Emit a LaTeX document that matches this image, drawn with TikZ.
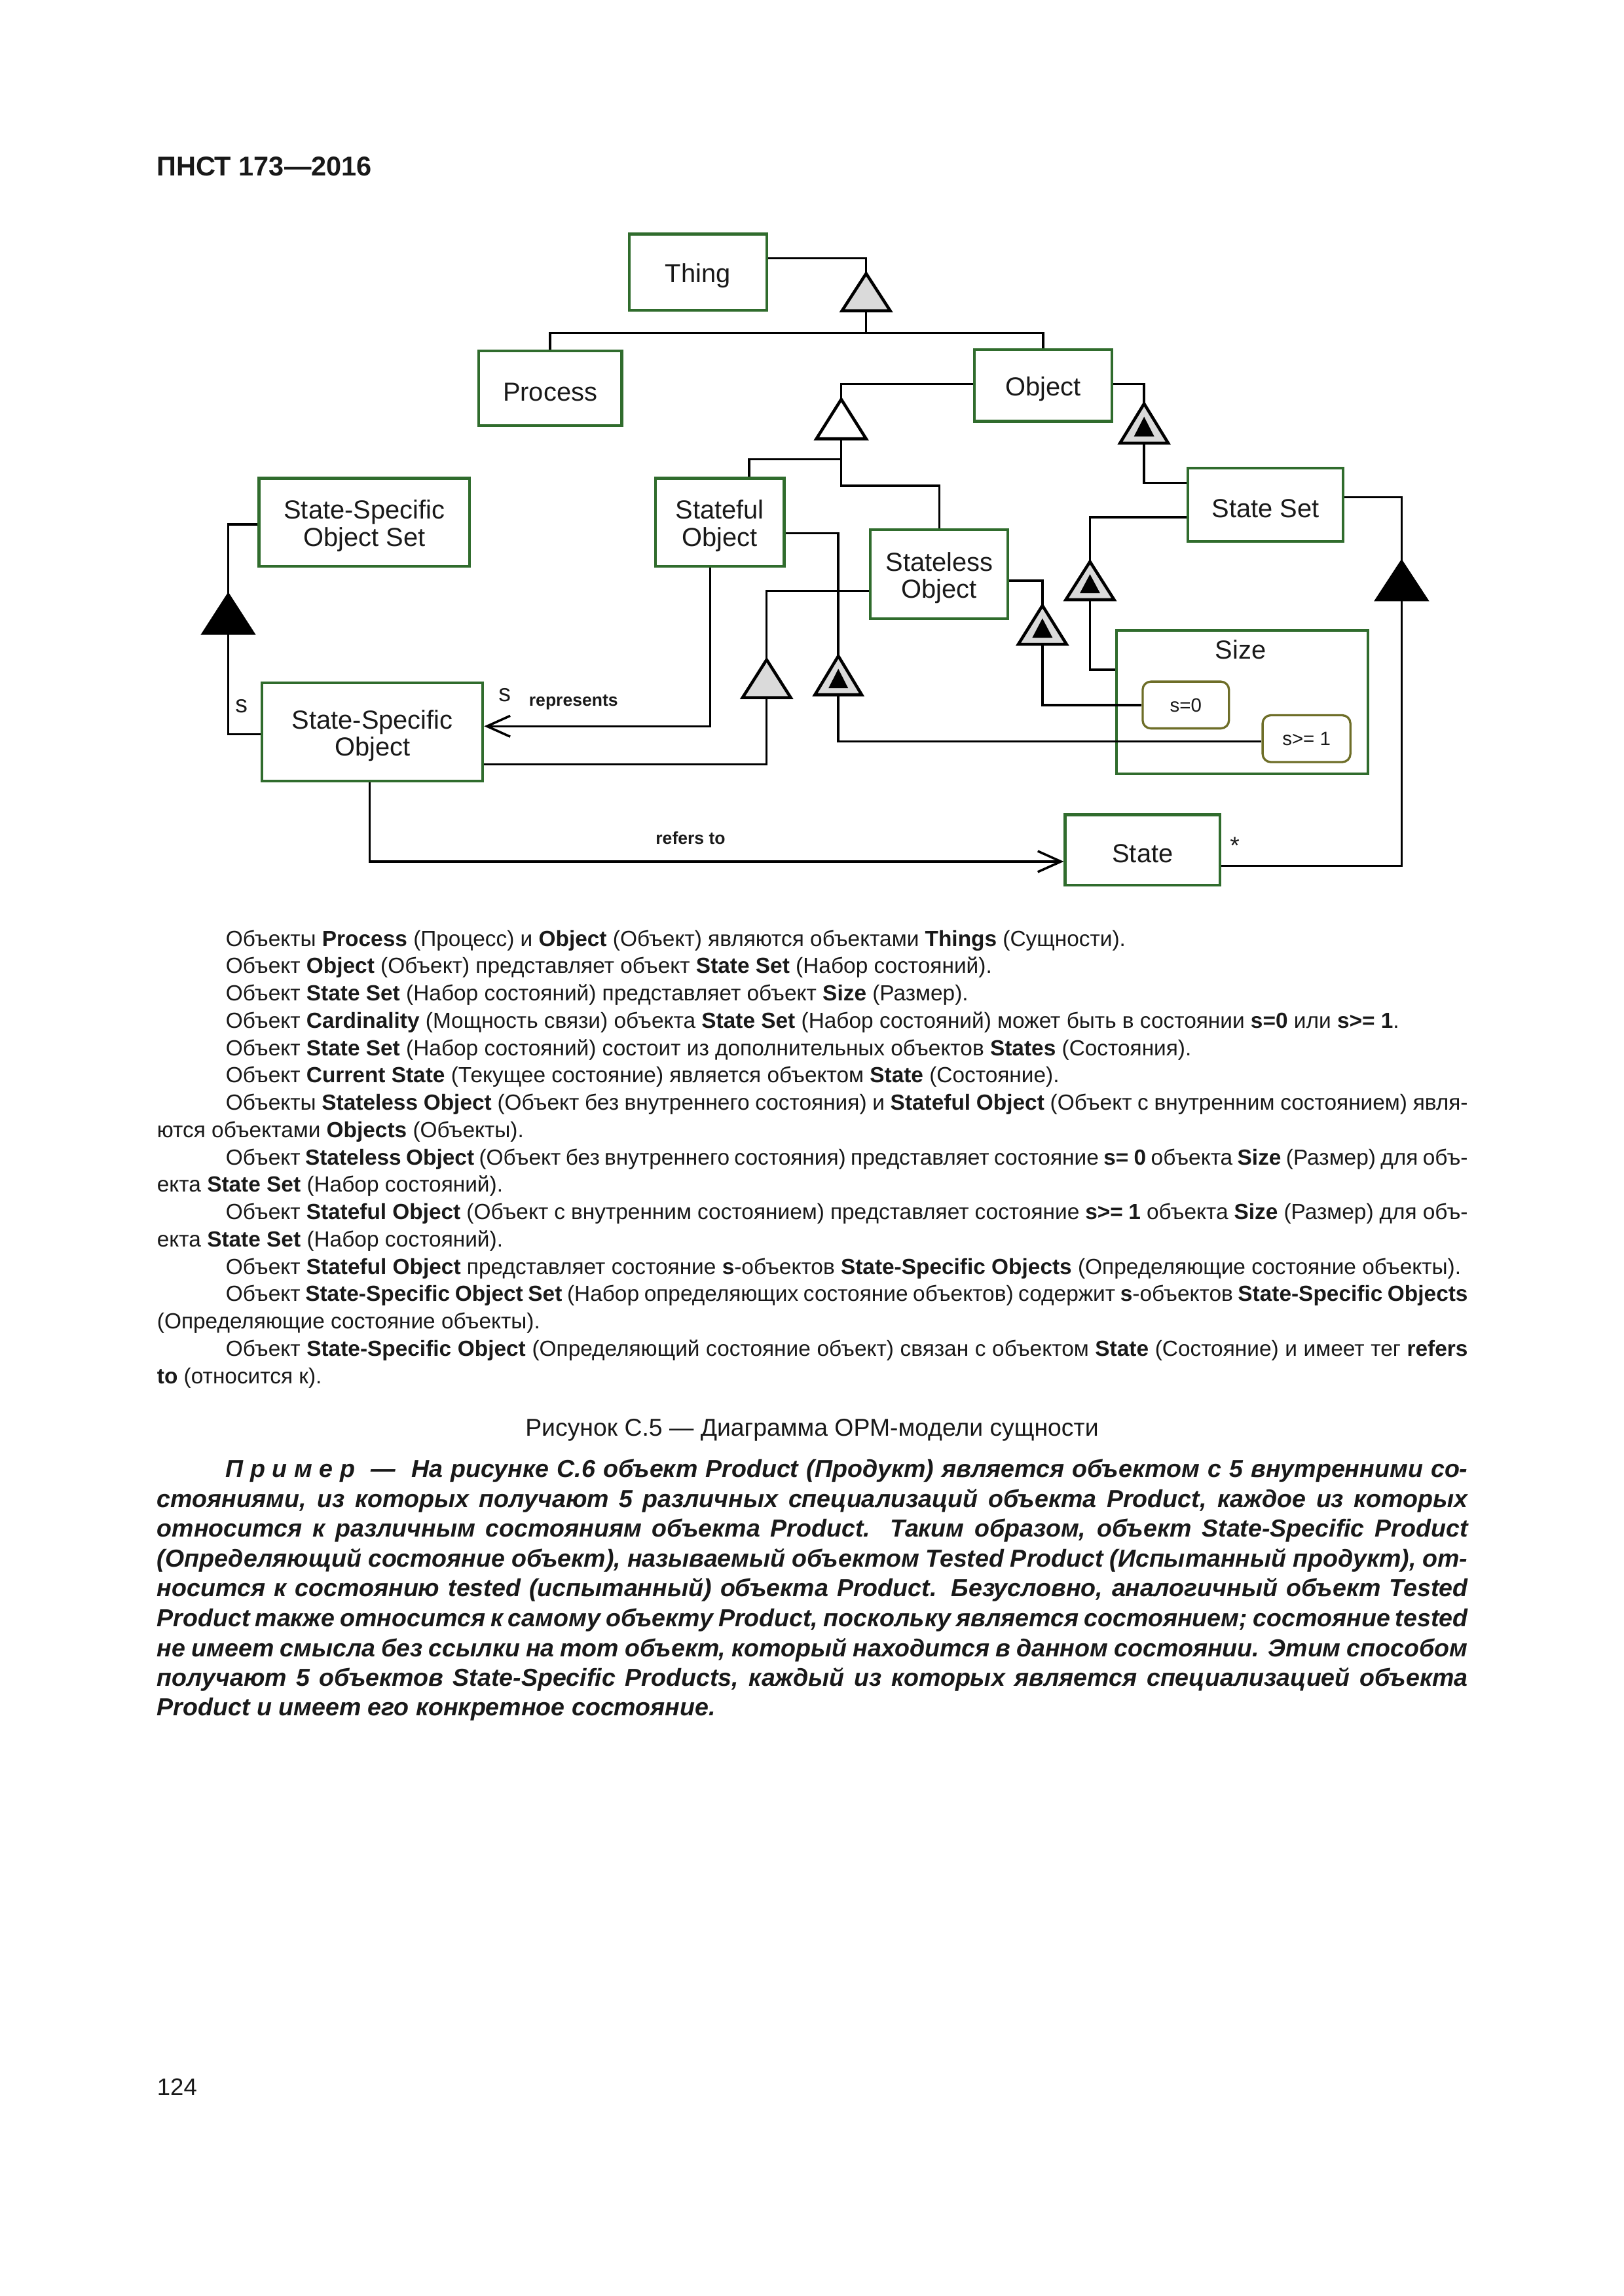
\documentclass[tikz,border=0pt]{standalone}
\usepackage{fontspec}
\setmainfont{Liberation Sans}
\usetikzlibrary{arrows.meta}
\definecolor{boxgreen}{RGB}{48,108,45}
\definecolor{stolive}{RGB}{110,110,40}
\definecolor{trigrey}{RGB}{218,218,218}
\definecolor{ink}{RGB}{25,25,25}
\newcommand\U{0.018919cm}
\newcommand\bodyfont{\fontsize{8.05}{10}\selectfont}
\newcommand\exfont{\fontsize{9.05}{11}\selectfont\bfseries\itshape}
\newcommand\spacedword{П\kern.28em р\kern.28em и\kern.28em м\kern.28em е\kern.28em р}
\newcommand\exhib[4]{%
  \draw[tri, fill=trigrey] ({#1-#4},#3) -- (#1,#2) -- ({#1+#4},#3) -- cycle;
  \fill[black] ({#1-0.42*#4},{#3-0.17*(#3-#2)}) -- (#1,{#2+0.33*(#3-#2)}) -- ({#1+0.42*#4},{#3-0.17*(#3-#2)}) -- cycle;}
\newcommand\plaintri[5]{%
  \draw[tri, fill=#5] ({#1-#4},#3) -- (#1,#2) -- ({#1+#4},#3) -- cycle;}
\begin{document}
\begin{tikzpicture}[x=0.018919cm, y=-0.018919cm,
  boxtext/.style={inner sep=0pt, align=center, text=ink, font=\fontsize{9.6}{10}\selectfont, yshift=-2.5*\U},
  box/.style n args={3}{draw=boxgreen, line width=1pt, inner sep=0pt,
     minimum width=#1*\U, minimum height=#2*\U, label={[boxtext]center:{#3}}},
  stbox/.style 2 args={draw=stolive, line width=0.8pt, rounded corners=3pt, inner sep=0pt, text=ink,
     font=\fontsize{7.1}{8}\selectfont, minimum width=#1*\U, minimum height=#2*\U},
  conn/.style={line width=0.85pt, draw=black},
  tri/.style={line width=1.1pt, line join=miter, draw=black},
  opentip/.style={-{Straight Barb[length=0.3cm, width=0.27cm, line width=0.85pt]}},
  lbl/.style={inner sep=0pt, text=ink},
  txt/.style={anchor=base west, inner sep=0pt, font=\bodyfont, text=ink},
  extxt/.style={anchor=base west, inner sep=0pt, font=\exfont, text=ink}]
\fill[white] (0,0) rectangle (1110,1569.7);
\useasboundingbox (0,0) rectangle (1110,1569.7);

% header and page number
\node[anchor=base west, inner sep=0pt, font=\fontsize{10}{12}\selectfont\bfseries, text=ink] (hdr) at (106.7,120.1) {ПНСТ 173—2016};
\node[anchor=base west, inner sep=0pt, font=\fontsize{8.8}{11}\selectfont, text=ink] (pgno) at (107,1432.3) {124};

% ---------- diagram boxes ----------
\node[box={94}{52}{Thing}] (thing) at (477,186) {};
\node[box={98}{51}{Process}] (process) at (376,265.5) {};
\node[box={94}{49}{Object}] (object) at (713,263.5) {};
\node[box={106}{50}{State Set}] (stateset) at (865,345) {};
\node[box={144}{60}{State-Specific\\Object Set}] (ssoset) at (249,357) {};
\node[box={88}{60}{Stateful\\Object}] (stateful) at (492,357) {};
\node[box={94}{61}{Stateless\\Object}] (stateless) at (642,392.5) {};
\node[box={172}{98}{}] (size) at (849,480) {};
\node[lbl, font=\fontsize{9.6}{10}\selectfont] (sizelbl) at (848,444) {Size};
\node[stbox={59}{32}] (s0) at (810.5,482) {s=0};
\node[stbox={60}{32}] (s1) at (893,505) {s>= 1};
\node[box={151}{67}{State-Specific\\Object}] (sso) at (254.5,500.5) {};
\node[box={106}{48}{State}] (state) at (781,581) {};

% triangle anchor points
\coordinate (t1a) at (592,187);   \coordinate (t1b) at (592,212.5);
\coordinate (t2a) at (575,273);   \coordinate (t2b) at (575,300);
\coordinate (t3a) at (782,276);   \coordinate (t3b) at (782,303);
\coordinate (t4a) at (745,384);   \coordinate (t4b) at (745,410);
\coordinate (t5a) at (958,384);   \coordinate (t5b) at (958,410);
\coordinate (t6a) at (712.5,414); \coordinate (t6b) at (712.5,440.5);
\coordinate (t7a) at (573,448.5); \coordinate (t7b) at (573,475);
\coordinate (t8a) at (524,451);   \coordinate (t8b) at (524,477);
\coordinate (t9a) at (156,406.6); \coordinate (t9b) at (156,433);

% ---------- connectors ----------
\draw[conn] (thing.east |- 0,176.5) -| (t1a);
\draw[conn] (t1b) -- (t1b |- 0,227.5);
\draw[conn] (process.north) |- (object.north |- 0,227.5) -- (object.north);
\draw[conn] (object.west |- 0,262.5) -| (t2a);
\draw[conn] (t2b) -- (575,332) -| (stateless.north);
\draw[conn] (575,314) -| (512,0 |- stateful.north);
\draw[conn] (object.east |- 0,262.5) -| (t3a);
\draw[conn] (t3b) |- (stateset.west |- 0,330);
\draw[conn] (stateset.west |- 0,353.5) -| (t4a);
\draw[conn] (t4b) |- (size.west |- 0,458);
\draw[conn] (stateset.east |- 0,340) -| (t5a);
\draw[conn] (t5b) |- (state.east |- 0,592);
\draw[conn] (stateless.east |- 0,397) -| (t6a);
\draw[conn] (t6b) |- (s0.west);
\draw[conn] (stateful.east |- 0,364.5) -| (t7a);
\draw[conn] (t7b) |- (s1.west |- 0,507);
\draw[conn] (stateless.west |- 0,404) -| (t8a);
\draw[conn] (t8b) |- (sso.east |- 0,522.5);
\draw[conn, opentip] (485.5,0 |- stateful.south) |- (sso.east |- 0,496.5);
\draw[conn] (ssoset.west |- 0,358.5) -| (t9a);
\draw[conn] (t9b) |- (sso.west |- 0,502);
\draw[conn, opentip] (252.6,0 |- sso.south) |- (state.west |- 0,589);

% ---------- triangles ----------
\plaintri{592}{187}{212.5}{16.5}{trigrey}
\plaintri{575}{273}{300}{17}{white}
\exhib{782}{276}{303}{16.5}
\exhib{745}{384}{410}{16.5}
\plaintri{958}{384}{410}{17}{black}
\exhib{712.5}{414}{440.5}{16.5}
\exhib{573}{448.5}{475}{16}
\plaintri{524}{451}{477}{16.5}{trigrey}
\plaintri{156}{406.6}{433}{17}{black}

% ---------- connector labels ----------
\node[lbl, font=\fontsize{9}{10}\selectfont] (lbls1) at (165,483) {s};
\node[lbl, font=\fontsize{9}{10}\selectfont] (lbls2) at (345,475) {s};
\node[lbl, font=\fontsize{6.4}{7}\selectfont\bfseries] (lblrep) at (392,480) {represents};
\node[lbl, font=\fontsize{6.4}{7}\selectfont\bfseries] (lblref) at (472,573) {refers to};
\node[lbl, font=\fontsize{9}{10}\selectfont] (lblstar) at (844,578) {*};

% ---------- description ----------
\node[txt] (b1) at (154,646.8) {Объекты \textbf{Process} (Процесс) и \textbf{Object} (Объект) являются объектами \textbf{Things} (Сущности).};
\node[txt] (b2) at (154,665.5) {Объект \textbf{Object} (Объект) представляет объект \textbf{State Set} (Набор состояний).};
\node[txt] (b3) at (154,684.2) {Объект \textbf{State Set} (Набор состояний) представляет объект \textbf{Size} (Размер).};
\node[txt] (b4) at (154,702.9) {Объект \textbf{Cardinality} (Мощность связи) объекта \textbf{State Set} (Набор состояний) может быть в состоянии \textbf{s=0} или \textbf{s>= 1}.};
\node[txt] (b5) at (154,721.6) {Объект \textbf{State Set} (Набор состояний) состоит из дополнительных объектов \textbf{States} (Состояния).};
\node[txt] (b6) at (154,740.3) {Объект \textbf{Current State} (Текущее состояние) является объектом \textbf{State} (Состояние).};
\node[txt] (b7) at (154,758.9) {\makebox[16.062cm][s]{Объекты \textbf{Stateless Object} (Объект без внутреннего состояния) и \textbf{Stateful Object} (Объект с внутренним состоянием) явля-}};
\node[txt] (b8) at (107,777.6) {ются объектами \textbf{Objects} (Объекты).};
\node[txt] (b9) at (154,796.3) {\makebox[16.062cm][s]{Объект \textbf{Stateless Object} (Объект без внутреннего состояния) представляет состояние \textbf{s=\kern.25em0} объекта \textbf{Size} (Размер) для объ-}};
\node[txt] (b10) at (107,815.0) {екта \textbf{State Set} (Набор состояний).};
\node[txt] (b11) at (154,833.7) {\makebox[16.062cm][s]{Объект \textbf{Stateful Object} (Объект с внутренним состоянием) представляет состояние \textbf{s>=\kern.25em1} объекта \textbf{Size} (Размер) для объ-}};
\node[txt] (b12) at (107,852.4) {екта \textbf{State Set} (Набор состояний).};
\node[txt] (b13) at (154,871.1) {Объект \textbf{Stateful Object} представляет состояние \textbf{s}-объектов \textbf{State-Specific Objects} (Определяющие состояние объекты).};
\node[txt] (b14) at (154,889.8) {\makebox[16.062cm][s]{Объект \textbf{State-Specific Object Set} (Набор определяющих состояние объектов) содержит \textbf{s}-объектов \textbf{State-Specific Objects}}};
\node[txt] (b15) at (107,908.5) {(Определяющие состояние объекты).};
\node[txt] (b16) at (154,927.2) {\makebox[16.062cm][s]{Объект \textbf{State-Specific Object} (Определяющий состояние объект) связан с объектом \textbf{State} (Состояние) и имеет тег \textbf{refers}}};
\node[txt] (b17) at (107,945.8) {\textbf{to} (относится к).};

% ---------- caption ----------
\node[anchor=base, inner sep=0pt, font=\fontsize{9}{11}\selectfont, text=ink] (caption) at (555,981.7) {Рисунок С.5 — Диаграмма ОРМ-модели сущности};

% ---------- example ----------
\node[extxt] (e1) at (154,1010.1) {\makebox[16.062cm][s]{\spacedword\ \ — \ На рисунке С.6 объект Product (Продукт) является объектом с 5 внутренними со-}};
\node[extxt] (e2) at (107,1030.5) {\makebox[16.951cm][s]{стояниями, из которых получают 5 различных специализаций объекта Product, каждое из которых}};
\node[extxt] (e3) at (107,1050.9) {\makebox[16.951cm][s]{относится к различным состояниям объекта Product. Таким образом, объект State-Specific Product}};
\node[extxt] (e4) at (107,1071.2) {\makebox[16.951cm][s]{(Определяющий состояние объект), называемый объектом Tested Product (Испытанный продукт), от-}};
\node[extxt] (e5) at (107,1091.6) {\makebox[16.951cm][s]{носится к состоянию tested (испытанный) объекта Product. Безусловно, аналогичный объект Tested}};
\node[extxt] (e6) at (107,1112.0) {\makebox[16.951cm][s]{Product также относится к самому объекту Product, поскольку является состоянием; состояние tested}};
\node[extxt] (e7) at (107,1132.4) {\makebox[16.951cm][s]{не имеет смысла без ссылки на тот объект, который находится в данном состоянии. Этим способом}};
\node[extxt] (e8) at (107,1152.7) {\makebox[16.951cm][s]{получают 5 объектов State-Specific Products, каждый из которых является специализацией объекта}};
\node[extxt] (e9) at (107,1173.1) {Product и имеет его конкретное состояние.};
\end{tikzpicture}
\end{document}
